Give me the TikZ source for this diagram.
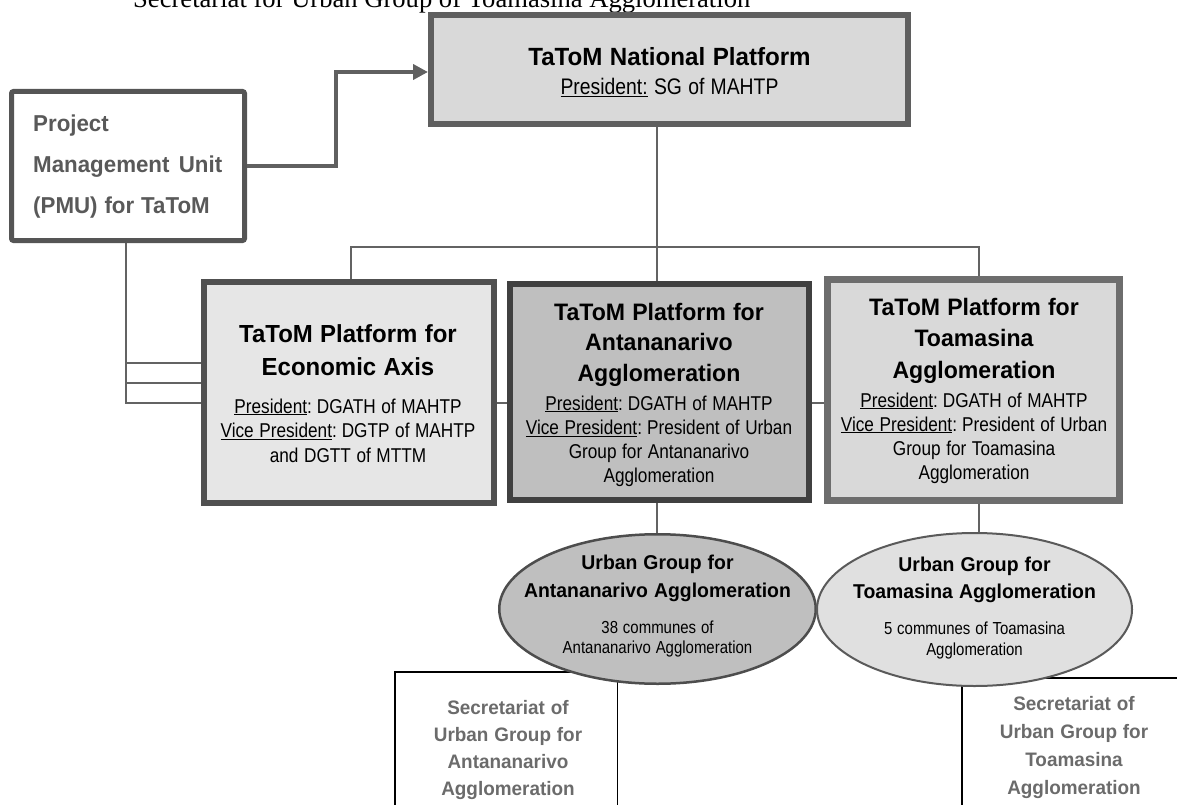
\documentclass[tikz,border=0pt]{standalone}
\usepackage{fontspec}
\setmainfont{Liberation Sans}[FakeStretch=0.86]
\newfontfamily\headfont{Liberation Sans}[FakeStretch=0.97]
\newfontfamily\serifline{Liberation Serif}
\usetikzlibrary{arrows.meta,shapes.geometric}
\pgfdeclarelayer{background}
\pgfsetlayers{background,main}

\definecolor{natfill}{HTML}{D9D9D9}
\definecolor{natedge}{HTML}{5F5F5F}
\definecolor{pmuedge}{HTML}{555555}
\definecolor{econfill}{HTML}{E6E6E6}
\definecolor{econedge}{HTML}{505050}
\definecolor{antafill}{HTML}{BFBFBF}
\definecolor{antaedge}{HTML}{404040}
\definecolor{toamfill}{HTML}{D9D9D9}
\definecolor{toamedge}{HTML}{6D6D6D}
\definecolor{ellafill}{HTML}{BFBFBF}
\definecolor{ellaedge}{HTML}{4D4D4D}
\definecolor{elltfill}{HTML}{E0E0E0}
\definecolor{elltedge}{HTML}{5A5A5A}
\definecolor{treeline}{HTML}{636363}
\definecolor{flowline}{HTML}{606060}
\definecolor{pmutext}{HTML}{595959}
\definecolor{sectext}{HTML}{6B6B6B}

% heading and body text sizes: {size}{baselineskip}, fixed word spaces
\newcommand\hd[2]{\headfont\bfseries\fontsize{#1}{#2}\selectfont\spaceskip=.3em\relax}
\newcommand\txtsize[2]{\normalfont\fontsize{#1}{#2}\selectfont\spaceskip=.28em\relax}
\newcommand\ulword[1]{\underline{#1}}

\tikzset{
  platform/.style={rectangle, draw, inner sep=0pt},
  bubble/.style={ellipse, draw, inner sep=0pt},
  secbox/.style={rectangle, draw=black, line width=1.5pt, inner sep=0pt},
  txt/.style={anchor=base, align=center, inner sep=0pt, text width=#1},
  tree/.style={draw=treeline, line width=2pt},
  flow/.style={draw=flowline, line width=4pt, -{Triangle[length=15pt,width=15pt]}},
}

\begin{document}
\begin{tikzpicture}[x=1pt, y=-1pt]
\useasboundingbox (0,0) rectangle (1177,805);
\clip (0,0) rectangle (1177,805);

% caption line running off the top edge
\node[anchor=base west, inner sep=0pt] (hdr) at (133,8)
  {\serifline\fontsize{26.6}{30}\selectfont Secretariat for Urban Group of Toamasina Agglomeration};

% boxes
\node[platform, draw=natedge, fill=natfill, line width=6pt,
      minimum width=477pt, minimum height=109pt] (nat) at (669.5,69.5) {};
\node[platform, draw=pmuedge, fill=white, line width=5pt, rounded corners=2pt,
      minimum width=233pt, minimum height=149pt] (pmu) at (128,166) {};
\node[platform, draw=econedge, fill=econfill, line width=6pt,
      minimum width=290pt, minimum height=221pt] (econ) at (349,392.5) {};
\node[platform, draw=antaedge, fill=antafill, line width=6pt,
      minimum width=299pt, minimum height=216pt] (anta) at (659.5,392) {};
\node[platform, draw=toamedge, fill=toamfill, line width=7pt,
      minimum width=292pt, minimum height=221pt] (toam) at (973.5,390) {};

% secretariat boxes, open at the bottom edge
\node[secbox, minimum width=222.5pt, minimum height=200pt] (seca) at (506,771.75) {};
\node[secbox, minimum width=224.5pt, minimum height=200pt] (sect) at (1074,777.75) {};

% urban groups
\node[bubble, draw=ellaedge, fill=ellafill, line width=2.5pt,
      minimum width=316.5pt, minimum height=149.5pt] (ella) at (657.5,609) {};
\node[bubble, draw=elltedge, fill=elltfill, line width=2pt,
      minimum width=315pt, minimum height=153pt] (ellt) at (974.5,609.5) {};

% connectors
\coordinate (hub) at (657,247);
\coordinate (tl) at (351,247);
\coordinate (tr) at (979,247);
\coordinate (ph1) at (126,363);
\coordinate (ph2) at (126,383);
\coordinate (pv) at (126,403);
\coordinate (bend) at (336,72);
\begin{pgfonlayer}{background}
  \draw[tree] (econ.north -| tl) -- (tl) -- (tr) -- (toam.north -| tr);
  \draw[tree] (nat.south -| hub) -- (anta.north -| hub);
  \draw[tree] (anta.south -| hub) -- (ella.north -| hub);
  \draw[tree] (toam.south -| tr) -- (ellt.north -| tr);
  \draw[tree] (pmu.south -| pv) -- (pv) -- (pv -| econ.west);
  \draw[tree] (ph1) -- (ph1 -| econ.west);
  \draw[tree] (ph2) -- (ph2 -| econ.west);
  \draw[tree] (econ.east |- pv) -- (anta.west |- pv);
  \draw[tree] (anta.east |- pv) -- (toam.west |- pv);
\end{pgfonlayer}
\draw[flow] (pmu.east) -| (bend) -- (bend -| nat.west);

% texts
\node[txt=470] (nat-t) at (669.5,66)
  {\hd{24.9}{29}TaToM National Platform\par
   \txtsize{22.5}{29}\ulword{President:} SG of MAHTP\par};

\node[anchor=base west, text width=189pt, align=left, inner sep=0pt, text=pmutext] (pmu-t) at (33,131.5)
  {\hd{23}{41}Project\\\makebox[189pt]{Management\hfill Unit}\\(PMU) for TaToM\par};

\node[txt=290] (econ-t) at (348,342)
  {\hd{24.7}{33}TaToM Platform for\\Economic Axis\par\vspace{13.5pt}
   \txtsize{20}{24.5}\ulword{President}: DGATH of MAHTP\\
   \ulword{Vice President}: DGTP of MAHTP\\and DGTT of MTTM\par};

\node[txt=300] (anta-t) at (659,320)
  {\hd{23.8}{30.5}TaToM Platform for\\Antananarivo\\Agglomeration\par\vspace{4.7pt}
   \txtsize{20}{24.3}\ulword{President}: DGATH of MAHTP\\
   \ulword{Vice President}: President of Urban\\Group for Antananarivo\\Agglomeration\par};

\node[txt=290] (toam-t) at (974,315.7)
  {\hd{23.8}{31.2}TaToM Platform for\\Toamasina\\Agglomeration\par\vspace{5pt}
   \txtsize{20}{24}\ulword{President}: DGATH of MAHTP\\
   \ulword{Vice President}: President of Urban\\Group for Toamasina\\Agglomeration\par};

\node[txt=320] (ella-t) at (657.5,569)
  {\hd{20}{28}Urban Group for\\Antananarivo Agglomeration\par\vspace{15.5pt}
   \txtsize{17.4}{20.5}38 communes of\\Antananarivo Agglomeration\par};

\node[txt=320] (ellt-t) at (974.5,571.7)
  {\hd{20}{26.3}Urban Group for\\Toamasina Agglomeration\par\vspace{15pt}
   \txtsize{17.4}{21}5 communes of Toamasina\\Agglomeration\par};

\node[txt=220, text=sectext] (seca-t) at (508,714)
  {\hd{19.5}{27}Secretariat of\\Urban Group for\\Antananarivo\\Agglomeration\par};

\node[txt=220, text=sectext] (sect-t) at (1074,710)
  {\hd{19.5}{28}Secretariat of\\Urban Group for\\Toamasina\\Agglomeration\par};
\end{tikzpicture}
\end{document}
